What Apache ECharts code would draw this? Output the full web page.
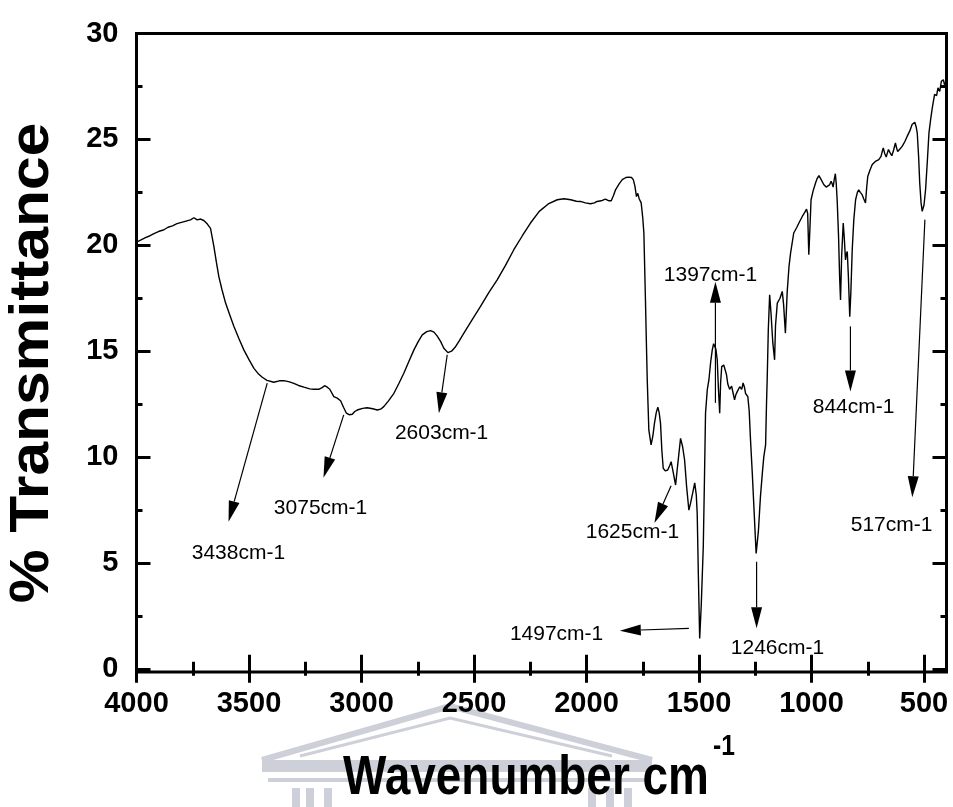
<!DOCTYPE html>
<html>
<head>
<meta charset="utf-8">
<script src="https://cdn.jsdelivr.net/npm/echarts@6/dist/echarts.min.js"></script>
<style>
html,body{margin:0;padding:0;background:#fff;}
#chart{width:953px;height:807px;}
</style>
</head>
<body>
<div id="chart"></div>
<script>
// FTIR spectrum: wavenumber (cm-1) and % transmittance
const wavenumber = [
  4000,3980,3960,3940,3920,3900,3880,3860,3840,3820,3800,3780,3760,3745,3730,3715,3701,3685,3671,3656,
  3645,3634,3620,3604,3585,3567,3545,3523,3500,3478,3460,3441,3420,3390,3365,3345,3320,3301,3280,3256,
  3230,3212,3190,3175,3164,3152,3141,3123,3108,3093,3080,3067,3055,3041,3030,3019,2995,2975,2950,2930,
  2915,2901,2880,2856,2835,2812,2790,2767,2748,2730,2710,2693,2678,2664,2648,2634,2616,2600,2582,2565,
  2545,2510,2471,2435,2397,2360,2323,2285,2249,2210,2170,2130,2100,2070,2045,2027,2005,1982,1965,1953,
  1935,1916,1900,1890,1880,1871,1855,1841,1825,1812,1800,1792,1785,1778,1772,1766,1757,1750,1745,1738,
  1733,1730,1726,1723,1713,1705,1698,1690,1683,1677,1671,1665,1659,1650,1639,1630,1624,1615,1604,1595,
  1582,1573,1564,1555,1545,1538,1530,1519,1512,1508,1503,1497,1490,1481,1476,1471,1463,1456,1448,1441,
  1435,1431,1425,1419,1414,1408,1404,1399,1390,1384,1378,1372,1364,1355,1348,1342,1336,1330,1319,1310,
  1304,1298,1293,1283,1277,1271,1263,1256,1250,1246,1236,1227,1218,1212,1204,1200,1197,1192,1186,1180,
  1172,1164,1160,1152,1140,1130,1124,1116,1108,1100,1093,1079,1065,1056,1041,1030,1022,1017,1012,1007,
  1002,992,982,975,967,957,945,935,927,920,913,908,904,899,894,890,886,880,875,871,
  866,859,854,849,845,841,836,830,825,819,812,804,796,790,783,775,768,760,755,750,
  740,730,716,701,691,685,681,675,668,663,658,650,643,635,627,622,617,607,597,585,
  575,563,553,541,535,530,524,519,513,508,500,493,485,478,471,463,453,444,438,430,
  423,414,409,403,400
];
const transmittance = [
  20.15,20.25,20.36,20.45,20.56,20.66,20.72,20.85,20.92,21.02,21.08,21.14,21.2,21.3,21.2,21.24,21.17,21.0,20.8,19.94,
  19.2,18.52,17.9,17.27,16.7,16.16,15.6,15.06,14.6,14.19,13.95,13.77,13.62,13.53,13.6,13.61,13.55,13.48,13.38,13.3,
  13.22,13.2,13.2,13.28,13.37,13.3,13.2,12.85,12.78,12.66,12.35,12.07,12.0,12.02,12.15,12.22,12.3,12.33,12.28,12.22,
  12.26,12.38,12.65,13.01,13.45,13.96,14.5,15.06,15.45,15.77,15.92,15.97,15.9,15.72,15.45,15.14,14.93,15.0,15.21,15.5,
  15.85,16.45,17.11,17.75,18.37,19.05,19.79,20.45,21.05,21.6,21.95,22.15,22.2,22.15,22.08,22.07,22.0,21.96,22.0,22.07,
  22.1,22.18,22.1,22.1,22.35,22.62,22.9,23.1,23.2,23.22,23.2,23.1,22.8,22.3,22.45,22.2,22.0,21.3,20.58,17.42,
  15.0,13.64,12.3,11.28,10.57,11.0,11.59,12.1,12.35,12.1,11.59,10.3,9.47,9.35,9.39,9.6,9.78,9.3,8.68,9.6,
  10.88,10.5,9.86,8.6,7.49,7.8,8.2,8.78,8.2,7.34,4.5,1.43,3.0,5.76,8.8,12.07,13.2,13.64,14.5,15.06,
  15.35,15.38,15.1,14.59,13.3,12.07,13.5,14.27,14.35,14.3,13.9,13.45,13.2,13.35,13.0,12.7,12.95,13.09,13.32,13.2,
  13.5,13.3,13.0,12.85,12.2,10.8,9.2,7.65,6.3,5.45,6.5,8.12,9.3,10.01,10.57,12.5,13.64,16.0,17.66,16.8,
  15.4,14.59,16.2,17.27,17.5,17.82,17.2,15.85,17.8,19.0,19.63,20.58,20.85,21.05,21.36,21.55,21.71,21.5,19.55,20.8,
  22.15,22.6,22.94,23.15,23.29,23.1,22.86,22.75,22.7,22.85,23.02,22.9,22.75,23.1,23.38,22.9,22.15,20.5,18.5,17.42,
  19.5,21.05,20.3,19.31,19.6,19.71,18.5,16.63,17.8,19.79,21.2,22.15,22.5,22.62,22.5,22.39,22.2,22.0,22.7,23.25,
  23.55,23.81,23.96,24.04,24.2,24.45,24.6,24.35,24.17,24.35,24.52,24.35,24.23,24.5,24.83,24.6,24.43,24.55,24.67,24.9,
  25.14,25.4,25.7,25.81,25.6,25.3,24.2,22.94,22.0,21.6,21.9,22.62,24.0,25.3,25.9,26.5,27.12,27.07,27.43,27.27,
  27.74,27.82,27.59,27.7,27.75
];

// axis ticks
const xMajorTicks = [4000,3500,3000,2500,2000,1500,1000,500];
const xMinorTicks = [3750,3250,2750,2250,1750,1250,750];
const yMajorTicks = [0,5,10,15,20,25,30];
const yMinorTicks = [2.5,7.5,12.5,17.5,22.5,27.5];

// band assignments: label text, arrow tail, arrow tip, label centre (wavenumber, %T)
const peakNames = ['3438cm-1','3075cm-1','2603cm-1','1625cm-1','1497cm-1','1246cm-1','1397cm-1','844cm-1','517cm-1'];
const arrowTail = [[3419,13.49],[3079,11.99],[2619,14.83],[1624,8.64],[1545,1.91],[1244,5.06],[1427,12.56],[827,16.17],[496,21.21]];
const arrowTip  = [[3591,6.94],[3169,9.02],[2656,12.07],[1698,6.88],[1852,1.80],[1244,1.91],[1427,18.28],[827,13.10],[552,8.10]];
const labelPos  = [[3547,5.47],[3182,7.60],[2644,11.14],[1796,6.47],[2133,1.64],[1151,0.98],[1449,18.61],[813,12.37],[644,6.80]];

const spectrum = wavenumber.map((w, i) => [w, transmittance[i]]);
const arrowData = arrowTail.map((t, i) => [t[0], t[1], arrowTip[i][0], arrowTip[i][1]]);

const FONT = '"Liberation Sans", Arial, Helvetica, sans-serif';

function xAxisDef(position, ticks, len, showLabels) {
  return {
    type: 'value', gridIndex: 0, position: position, min: 400, max: 4000, inverse: true,
    axisLine: { show: false }, splitLine: { show: false },
    axisTick: { show: true, inside: true, length: len, customValues: ticks, lineStyle: { color: '#000', width: 3 } },
    axisLabel: showLabels ? {
      show: true, customValues: ticks, margin: 17, color: '#000',
      fontFamily: FONT, fontWeight: 'bold', fontSize: 29,
      formatter: v => String(v)
    } : { show: false }
  };
}
function yAxisDef(position, ticks, len, showLabels) {
  return {
    type: 'value', gridIndex: 0, position: position, min: -0.15, max: 30,
    axisLine: { show: false }, splitLine: { show: false },
    axisTick: { show: true, inside: true, length: len, customValues: ticks, lineStyle: { color: '#000', width: 3 } },
    axisLabel: showLabels ? {
      show: true, customValues: ticks, margin: 18, color: '#000',
      fontFamily: FONT, fontWeight: 'bold', fontSize: 29,
      formatter: v => String(v)
    } : { show: false }
  };
}

// faint building emblem behind the axis title
const emblemColor = '#cdd0d9';
const emblem = [
  { type: 'polyline', shape: { points: [[262,760],[450,706],[652,760]] }, style: { stroke: emblemColor, lineWidth: 6, fill: null } },
  { type: 'polyline', shape: { points: [[300,756],[450,718],[612,756]] }, style: { stroke: emblemColor, lineWidth: 3, fill: null } },
  { type: 'rect', shape: { x: 262, y: 760, width: 390, height: 12 }, style: { fill: emblemColor } },
  { type: 'rect', shape: { x: 268, y: 778, width: 378, height: 4 }, style: { fill: emblemColor } },
  { type: 'rect', shape: { x: 292, y: 788, width: 8, height: 19 }, style: { fill: emblemColor } },
  { type: 'rect', shape: { x: 306, y: 788, width: 8, height: 19 }, style: { fill: emblemColor } },
  { type: 'rect', shape: { x: 324, y: 788, width: 8, height: 19 }, style: { fill: emblemColor } },
  { type: 'rect', shape: { x: 588, y: 788, width: 8, height: 19 }, style: { fill: emblemColor } },
  { type: 'rect', shape: { x: 606, y: 788, width: 8, height: 19 }, style: { fill: emblemColor } },
  { type: 'rect', shape: { x: 624, y: 788, width: 8, height: 19 }, style: { fill: emblemColor } }
];

const chart = echarts.init(document.getElementById('chart'), null, { renderer: 'canvas' });
chart.setOption({
  animation: false,
  backgroundColor: '#fff',
  grid: { left: 136.5, right: 6.5, top: 33.5, bottom: 135, show: true, borderColor: '#000', borderWidth: 3, backgroundColor: 'transparent' },
  xAxis: [
    xAxisDef('bottom', xMajorTicks, 14, true),
    xAxisDef('bottom', xMinorTicks, 7, false),
    xAxisDef('top', xMajorTicks, 14, false),
    xAxisDef('top', xMinorTicks, 7, false)
  ],
  yAxis: [
    yAxisDef('left', yMajorTicks, 14, true),
    yAxisDef('left', yMinorTicks, 6, false),
    yAxisDef('right', yMajorTicks, 14, false),
    yAxisDef('right', yMinorTicks, 6, false)
  ],
  graphic: {
    elements: [
      { type: 'group', z: -10, silent: true, children: emblem },
      {
        type: 'text', x: 33, y: 363, rotation: Math.PI / 2, scaleX: 1.08, z: 10,
        style: { text: '% Transmittance', font: 'bold 56px ' + FONT, fill: '#000', align: 'center', verticalAlign: 'middle' }
      },
      {
        type: 'text', x: 526, y: 779, scaleX: 0.82, z: 10,
        style: { text: 'Wavenumber cm', font: 'bold 56px ' + FONT, fill: '#000', align: 'center', verticalAlign: 'middle' }
      },
      {
        type: 'text', x: 713, y: 747, scaleX: 0.82, z: 10,
        style: { text: '-1', font: 'bold 30px ' + FONT, fill: '#000', align: 'left', verticalAlign: 'middle' }
      }
    ]
  },
  series: [
    {
      type: 'line', xAxisIndex: 0, yAxisIndex: 0, data: spectrum,
      showSymbol: false, smooth: false, z: 3,
      lineStyle: { color: '#000', width: 1.4 }
    },
    {
      type: 'custom', xAxisIndex: 0, yAxisIndex: 0, data: arrowData, z: 4,
      encode: { x: [0, 2], y: [1, 3] },
      renderItem: function (params, api) {
        const a = api.coord([api.value(0), api.value(1)]);
        const b = api.coord([api.value(2), api.value(3)]);
        const dx = b[0] - a[0], dy = b[1] - a[1];
        const len = Math.sqrt(dx * dx + dy * dy);
        const ux = dx / len, uy = dy / len;
        const head = 21, half = 5.5;
        const bx = b[0] - ux * head, by = b[1] - uy * head;
        return {
          type: 'group',
          children: [
            { type: 'line', shape: { x1: a[0], y1: a[1], x2: bx, y2: by }, style: { stroke: '#000', lineWidth: 1.2 } },
            { type: 'polygon', shape: { points: [[b[0], b[1]], [bx - uy * half, by + ux * half], [bx + uy * half, by - ux * half]] }, style: { fill: '#000' } }
          ]
        };
      }
    },
    {
      type: 'custom', xAxisIndex: 0, yAxisIndex: 0, data: labelPos, z: 5,
      renderItem: function (params, api) {
        const p = api.coord([api.value(0), api.value(1)]);
        return {
          type: 'text', x: p[0], y: p[1],
          style: { text: peakNames[params.dataIndex], font: '21px ' + FONT, fill: '#000', align: 'center', verticalAlign: 'middle' }
        };
      }
    }
  ]
});
</script>
</body>
</html>
